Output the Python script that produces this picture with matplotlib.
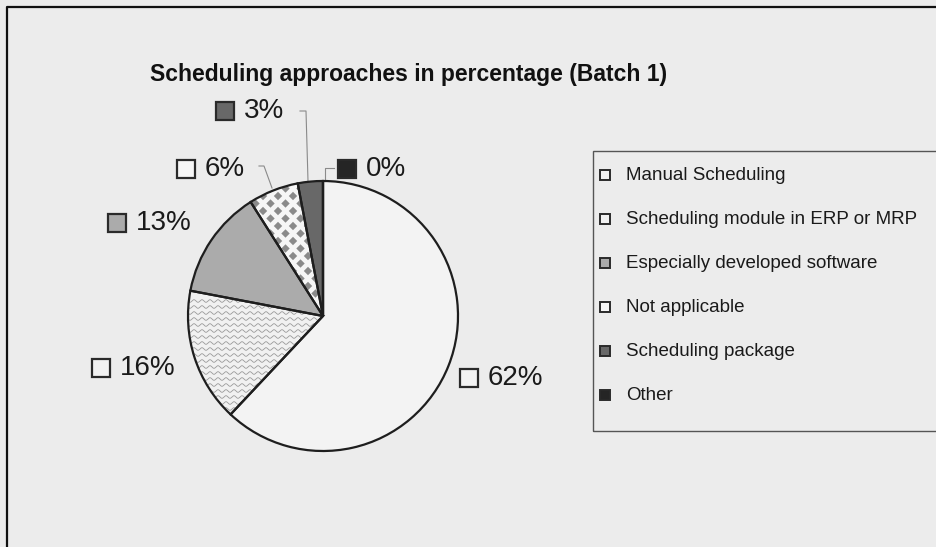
import matplotlib
matplotlib.use('Agg')
import matplotlib.pyplot as plt
import numpy as np
from matplotlib.patches import Rectangle, RegularPolygon, Wedge
from matplotlib.collections import PatchCollection

plt.rcParams['font.family'] = ['Liberation Sans', 'DejaVu Sans']

categories = ['Manual Scheduling', 'Scheduling module in ERP or MRP',
              'Especially developed software', 'Not applicable',
              'Scheduling package', 'Other']
shares = [62, 16, 13, 6, 3, 0]
title = 'Scheduling approaches in percentage (Batch 1)'

fills = ['#f3f3f3', '#f1f1f1', '#ababab', '#f6f6f6', '#686868', '#252525']
bg = '#ececec'

W, H = 937, 547

def Y(py):
    # pixel row (from top) -> axes y
    return H - py

fig = plt.figure(figsize=(W / 100, H / 100), dpi=100, facecolor=bg)
ax = fig.add_axes([0, 0, 1, 1])
ax.set_facecolor(bg)

cx, cy, r = 323, Y(316), 135
wedges, _ = ax.pie(shares, startangle=90, counterclock=False, center=(cx, cy),
                   radius=r, colors=fills,
                   wedgeprops=dict(edgecolor='none', linewidth=0))
ax.set_xlim(0, W)
ax.set_ylim(0, H)
ax.set_aspect('auto')
ax.axis('off')
for w in wedges:
    w.set_zorder(1)

# wavy texture on the ERP slice
xs = np.linspace(cx - r - 5, cx + 10, 600)
for yy in np.arange(cy - r, cy + 20, 6):
    ln, = ax.plot(xs, yy + 1.3 * np.sin(2 * np.pi * xs / 8), color='#9a9a9a',
                  lw=0.6, zorder=1.5)
    ln.set_clip_path(wedges[1])

# diamond checks on the "not applicable" slice
dia = []
p = 15
for i in range(-2, 12):
    for j in range(-2, 24):
        x0 = cx - 90 + i * p + (p / 2 if j % 2 else 0)
        y0 = cy + j * p / 2
        dia.append(RegularPolygon((x0, y0), 4, radius=4.2, orientation=0))
pc = PatchCollection(dia, facecolor='#8a8a8a', edgecolor='none', zorder=1.5)
ax.add_collection(pc)
pc.set_clip_path(wedges[3])

# slice outlines on top of the textures
for w in wedges:
    ax.add_patch(Wedge((cx, cy), r, w.theta1, w.theta2, fill=False,
                       ec='#1e1e1e', lw=1.6, zorder=3))

# percentage labels with key squares: (key left px, centre row px)
label_pos = [(460, 378), (92, 368), (108, 223), (177, 169), (216, 111), (338, 169)]
for k, (kx, ky) in enumerate(label_pos):
    ax.add_patch(Rectangle((kx, Y(ky) - 9), 18, 18, facecolor=fills[k],
                           edgecolor='#2a2a2a', lw=1.6, zorder=4))
    ax.text(kx + 28, Y(ky), '%d%%' % shares[k], fontsize=20, color='#1a1a1a',
            va='center', ha='left', zorder=4)

# leader lines for the narrow slices
lead = '#8a8a8a'
ax.plot([300, 306, 308], [Y(111), Y(111), Y(181)], color=lead, lw=0.8, zorder=2)
ax.plot([259, 264, 272], [Y(166), Y(166), Y(188)], color=lead, lw=0.8, zorder=2)
ax.plot([334, 325, 325], [Y(168), Y(168), Y(181)], color=lead, lw=0.8, zorder=2)

ax.text(409, Y(75), title, fontsize=16.5, fontweight='bold', ha='center',
        va='center', color='#111111')

# legend box
ax.add_patch(Rectangle((593, Y(431)), 360, 280, facecolor='none',
                       edgecolor='#555555', lw=1.0, zorder=2))
for k, name in enumerate(categories):
    ty = 175 + k * 44
    ax.add_patch(Rectangle((600, Y(ty) - 5), 10, 10, facecolor=fills[k],
                           edgecolor='#2a2a2a', lw=1.4, zorder=4))
    ax.text(626, Y(ty), name, fontsize=13.5, va='center', ha='left',
            color='#1a1a1a')

# outer chart frame
ax.plot([7, 7, W + 5], [-5, Y(7), Y(7)], color='#111111', lw=1.6, zorder=5)

fig.savefig('out.png', dpi=100, facecolor=bg)
